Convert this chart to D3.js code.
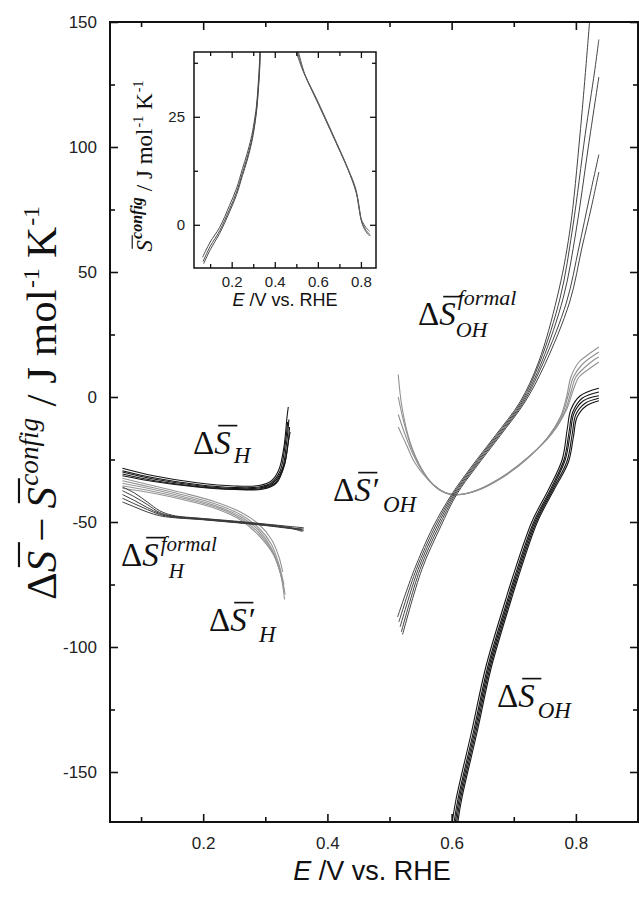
<!DOCTYPE html>
<html>
<head>
<meta charset="utf-8">
<script src="https://cdn.jsdelivr.net/npm/d3@7"></script>
<style>
  body { margin: 0; background: #fff; }
  svg { display: block; }
</style>
</head>
<body>
<svg id="chart"></svg>
<script>
// ---- data: [E (V vs RHE), entropy (J/mol/K)] ----
const xMajor = [0.2, 0.4, 0.6, 0.8];
const xMinor = [0.1, 0.3, 0.5, 0.7];
const yMajor = [-150, -100, -50, 0, 50, 100, 150];
const yMinor = [-125, -75, -25, 25, 75, 125];

const insetXMajor = [0.2, 0.4, 0.6, 0.8];
const insetXMinor = [0.1, 0.3, 0.5, 0.7];
const insetYMajor = [0, 25];
const insetYMinor = [12.5, 37.5];

// ΔS_H (black)
const dSH = [
  [[0.07,-28.5],[0.12,-31.5],[0.19,-34.3],[0.25,-35.6],[0.29,-35.4],[0.31,-33.5],[0.322,-29],[0.33,-20],[0.335,-8],[0.337,-4]],
  [[0.07,-29.5],[0.12,-32.3],[0.19,-35],[0.25,-36.2],[0.29,-36],[0.31,-34.3],[0.324,-29.5],[0.332,-19],[0.336,-10]],
  [[0.07,-30],[0.12,-32.8],[0.19,-35.4],[0.25,-36.6],[0.29,-36.4],[0.312,-34.5],[0.327,-29],[0.334,-19],[0.338,-9]],
  [[0.07,-30.8],[0.12,-33.4],[0.19,-35.8],[0.25,-36.9],[0.292,-36.7],[0.315,-34.6],[0.329,-28.5],[0.336,-20],[0.339,-12]],
  [[0.07,-31.5],[0.12,-33.8],[0.19,-36],[0.25,-37],[0.295,-36.9],[0.318,-34.4],[0.331,-27],[0.337,-18],[0.34,-14]]
];
// ΔS_H formal (dark grey)
const dSHformal = [
  [[0.07,-36],[0.09,-38.5],[0.11,-42],[0.13,-45.5],[0.15,-47.3],[0.2,-48.6],[0.25,-49.6],[0.3,-50.8],[0.34,-51.8],[0.362,-52.3]],
  [[0.07,-37.5],[0.09,-40],[0.11,-43],[0.13,-46.2],[0.15,-47.6],[0.2,-48.7],[0.25,-49.8],[0.3,-51],[0.34,-52.2],[0.362,-53.5]],
  [[0.07,-39],[0.09,-41.5],[0.11,-44.2],[0.13,-46.6],[0.15,-47.8],[0.2,-48.9],[0.25,-50],[0.3,-51.2],[0.34,-52.4],[0.362,-52.8]],
  [[0.07,-40.5],[0.09,-42.8],[0.11,-45],[0.13,-47],[0.15,-48],[0.2,-49],[0.25,-50.1],[0.3,-51.3],[0.34,-52.5],[0.36,-53.8]],
  [[0.07,-42],[0.09,-44],[0.11,-46],[0.13,-47.5],[0.15,-48.2],[0.2,-49.1],[0.25,-50.2],[0.3,-51.4],[0.34,-52.6],[0.36,-53]]
];
// ΔS'_H (light grey)
const dSHprime = [
  [[0.07,-32.5],[0.12,-35.5],[0.17,-38.5],[0.22,-42],[0.26,-46],[0.29,-51],[0.31,-57],[0.322,-64],[0.328,-70]],
  [[0.07,-33.5],[0.12,-36.3],[0.17,-39.3],[0.22,-42.8],[0.26,-47],[0.29,-52.5],[0.31,-59],[0.322,-67],[0.33,-75]],
  [[0.07,-34.5],[0.12,-37],[0.17,-40],[0.22,-43.5],[0.26,-47.8],[0.29,-53.5],[0.31,-60.5],[0.324,-70],[0.331,-81]],
  [[0.07,-35.5],[0.12,-37.8],[0.17,-40.6],[0.22,-44],[0.26,-48.5],[0.29,-54.5],[0.312,-62],[0.325,-71],[0.33,-77]],
  [[0.07,-36.5],[0.12,-38.5],[0.17,-41.2],[0.22,-44.6],[0.26,-49.2],[0.29,-55.5],[0.313,-63],[0.326,-72],[0.332,-79]]
];
// ΔS_OH formal (dark grey)
const dSOHformal = [
  [[0.513,-88],[0.54,-69],[0.57,-52],[0.6,-39],[0.63,-28.5],[0.67,-15.5],[0.71,-2],[0.74,14],[0.77,40],[0.79,66],[0.807,106],[0.822,150]],
  [[0.515,-90],[0.543,-69],[0.573,-52],[0.602,-39],[0.632,-28.5],[0.672,-15.5],[0.712,-2],[0.742,14],[0.775,40],[0.795,68],[0.815,105],[0.83,130],[0.837,143]],
  [[0.517,-92],[0.546,-69],[0.576,-52],[0.604,-39],[0.634,-28.5],[0.674,-15.5],[0.714,-2],[0.745,14],[0.78,40],[0.80,66],[0.82,100],[0.837,128]],
  [[0.519,-94],[0.549,-69],[0.579,-52],[0.606,-39],[0.636,-28.5],[0.676,-15.5],[0.716,-2],[0.748,14],[0.785,38],[0.805,60],[0.822,80],[0.837,97]],
  [[0.521,-95],[0.552,-69],[0.582,-52],[0.608,-39],[0.638,-28.5],[0.678,-15.5],[0.718,-2],[0.75,13],[0.79,38],[0.81,60],[0.825,76],[0.837,90]]
];
// ΔS'_OH (light grey)
const dSOHprime = [
  [[0.514,9],[0.52,-4],[0.533,-18],[0.55,-28],[0.57,-35],[0.59,-38.3],[0.61,-39],[0.64,-37.5],[0.68,-32.5],[0.72,-25],[0.755,-16],[0.775,-8],[0.785,0],[0.792,8],[0.805,14],[0.82,17],[0.837,20]],
  [[0.514,0],[0.523,-10],[0.535,-20],[0.552,-29],[0.572,-35.5],[0.592,-38.5],[0.612,-39],[0.642,-37.3],[0.682,-32],[0.722,-24.5],[0.757,-15.5],[0.778,-7],[0.788,1],[0.796,8],[0.81,13],[0.825,16],[0.837,18]],
  [[0.514,-7],[0.525,-15],[0.538,-23],[0.555,-30.5],[0.575,-36],[0.595,-38.8],[0.614,-39],[0.644,-37],[0.684,-31.6],[0.724,-24],[0.76,-15],[0.782,-6],[0.792,2],[0.8,8],[0.815,12],[0.83,15],[0.837,16]],
  [[0.514,-12],[0.527,-19],[0.54,-26],[0.558,-32],[0.578,-36.8],[0.598,-39],[0.616,-39],[0.646,-36.7],[0.686,-31.2],[0.726,-23.5],[0.762,-14.5],[0.785,-5],[0.796,3],[0.805,8],[0.82,11],[0.837,14]]
];
// ΔS_OH (black)
const dSOH = [
  [[0.601,-170],[0.607,-161],[0.632,-134],[0.655,-108],[0.687,-81],[0.697,-73],[0.729,-50],[0.756,-37],[0.778,-25],[0.786,-13],[0.792,-5],[0.807,0.5],[0.837,3.5]],
  [[0.604,-170],[0.610,-161],[0.635,-134],[0.658,-108],[0.690,-81],[0.700,-73],[0.732,-50],[0.759,-37],[0.781,-25],[0.789,-14],[0.795,-6],[0.810,-0.5],[0.837,2]],
  [[0.606,-170],[0.612,-161],[0.637,-134],[0.660,-108],[0.692,-81],[0.702,-73],[0.734,-50],[0.761,-37],[0.783,-25],[0.791,-14.5],[0.797,-6.5],[0.812,-1.5],[0.837,0.5]],
  [[0.608,-170],[0.614,-161],[0.639,-134],[0.662,-108],[0.694,-81],[0.704,-73],[0.736,-50],[0.763,-37],[0.786,-25.5],[0.794,-15],[0.800,-7],[0.815,-2.5],[0.837,-0.5]],
  [[0.610,-170],[0.616,-161],[0.641,-134],[0.664,-108],[0.696,-81],[0.706,-73],[0.738,-50],[0.765,-37],[0.788,-26],[0.796,-16],[0.802,-8],[0.817,-3.5],[0.837,-1.5]]
];
// inset: configurational entropy
const insetLeft = [
  [[0.065,-7.5],[0.1,-4],[0.144,-0.6],[0.19,4.5],[0.223,8.5],[0.25,13],[0.27,16.2],[0.29,20],[0.30,22.5],[0.315,27.5],[0.323,32.5],[0.328,36.5],[0.331,40]],
  [[0.067,-8.5],[0.1,-5],[0.144,-1.4],[0.19,3.6],[0.223,7.6],[0.25,12],[0.27,15.2],[0.29,19],[0.30,21.4],[0.315,26.6],[0.324,32],[0.329,36],[0.332,40]],
  [[0.07,-9],[0.1,-5.8],[0.144,-2],[0.19,3],[0.223,7],[0.25,11.4],[0.27,14.6],[0.29,18.4],[0.302,21.5],[0.317,27],[0.325,32],[0.33,36],[0.333,40]]
];
const insetRight = [
  [[0.50,40],[0.53,35.8],[0.59,29.6],[0.68,19.8],[0.74,13],[0.775,8.5],[0.79,4.5],[0.80,1.5],[0.815,0],[0.83,-1],[0.84,-1.5]],
  [[0.505,40],[0.535,35.2],[0.595,28.8],[0.685,19],[0.745,12.2],[0.778,7.5],[0.792,3.5],[0.803,0.8],[0.818,-0.8],[0.832,-1.8],[0.842,-2.2]],
  [[0.51,40],[0.54,34.8],[0.6,28.2],[0.69,18.4],[0.75,11.6],[0.782,6.8],[0.796,2.8],[0.806,0.2],[0.82,-1.3],[0.835,-2.3],[0.845,-2.5]]
];

const SANS = 'Liberation Sans, Arial, Helvetica, sans-serif';
const SERIF = 'Liberation Serif, Times New Roman, serif';

const svg = d3.select('#chart').attr('width', 639).attr('height', 903);
svg.append('rect').attr('width', 639).attr('height', 903).attr('fill', '#fff');

// lay out a run of text pieces left to right, with optional overbars and stacked sub/superscripts
function richText(parent, parts) {
  const g = parent.append('g');
  let cx = 0, last = 0;
  parts.forEach(p => {
    const size = p.size || 32;
    const x0 = p.stack ? last + (p.dx || 0) : cx + (p.gap || 0);
    const t = g.append('text')
      .attr('x', x0).attr('y', p.shift || 0)
      .attr('font-family', p.family || SERIF)
      .attr('font-size', size)
      .attr('font-style', p.italic ? 'italic' : 'normal')
      .attr('font-weight', p.bold ? 'bold' : 'normal')
      .attr('fill', '#111')
      .text(p.t);
    const w = t.node().getComputedTextLength();
    if (p.bar) {
      g.append('line')
        .attr('x1', x0 + size * 0.12).attr('x2', x0 + w + size * 0.2)
        .attr('y1', -size * 0.86).attr('y2', -size * 0.86)
        .attr('stroke', '#111').attr('stroke-width', Math.max(1.1, size * 0.05));
    }
    if (!p.stack) { last = x0; cx = x0 + w; }
    else cx = Math.max(cx, x0 + w);
  });
  return { g, width: cx };
}

const hyphenFmt = d => String(d);

function drawFrame(g, x, y, o) {
  const [x0, x1] = x.range(), [y0, y1] = y.range();
  const sty = sel => {
    sel.select('.domain').remove();
    sel.selectAll('line').attr('stroke', '#111').attr('stroke-width', o.tickW);
    sel.selectAll('text').attr('font-family', SANS).attr('font-size', o.font).attr('fill', '#222');
  };
  const f = d3.format('.1f');
  g.append('g').attr('transform', `translate(0,${y0})`)
    .call(d3.axisBottom(x).tickValues(o.xMajor).tickFormat(f).tickSizeInner(-o.major).tickSizeOuter(0).tickPadding(o.xPad)).call(sty);
  g.append('g').attr('transform', `translate(0,${y0})`)
    .call(d3.axisBottom(x).tickValues(o.xMinor).tickFormat('').tickSizeInner(-o.minor).tickSizeOuter(0)).call(sty);
  g.append('g').attr('transform', `translate(0,${y1})`)
    .call(d3.axisTop(x).tickValues(o.xMajor).tickFormat('').tickSizeInner(-o.major).tickSizeOuter(0)).call(sty);
  g.append('g').attr('transform', `translate(0,${y1})`)
    .call(d3.axisTop(x).tickValues(o.xMinor).tickFormat('').tickSizeInner(-o.minor).tickSizeOuter(0)).call(sty);
  g.append('g').attr('transform', `translate(${x0},0)`)
    .call(d3.axisLeft(y).tickValues(o.yMajor).tickFormat(hyphenFmt).tickSizeInner(-o.major).tickSizeOuter(0).tickPadding(o.yPad)).call(sty);
  g.append('g').attr('transform', `translate(${x0},0)`)
    .call(d3.axisLeft(y).tickValues(o.yMinor).tickFormat('').tickSizeInner(-o.minor).tickSizeOuter(0)).call(sty);
  g.append('g').attr('transform', `translate(${x1},0)`)
    .call(d3.axisRight(y).tickValues(o.yMajor).tickFormat('').tickSizeInner(-o.major).tickSizeOuter(0)).call(sty);
  g.append('g').attr('transform', `translate(${x1},0)`)
    .call(d3.axisRight(y).tickValues(o.yMinor).tickFormat('').tickSizeInner(-o.minor).tickSizeOuter(0)).call(sty);
  g.append('rect').attr('x', x0).attr('y', y1).attr('width', x1 - x0).attr('height', y0 - y1)
    .attr('fill', 'none').attr('stroke', '#111').attr('stroke-width', o.frameW);
}

function drawBundle(g, lines, x, y, color, width) {
  const line = d3.line().x(d => x(d[0])).y(d => y(d[1])).curve(d3.curveCatmullRom.alpha(0.5));
  g.selectAll(null).data(lines).enter().append('path')
    .attr('d', line).attr('fill', 'none')
    .attr('stroke', color).attr('stroke-width', width).attr('stroke-linejoin', 'round');
}

// ---- main panel ----
const x = d3.scaleLinear().domain([0.05, 0.9]).range([110, 638]);
const y = d3.scaleLinear().domain([-170, 150]).range([822, 22]);

svg.append('clipPath').attr('id', 'clipMain').append('rect')
  .attr('x', 110).attr('y', 22).attr('width', 528).attr('height', 800);
const plot = svg.append('g').attr('clip-path', 'url(#clipMain)');

drawBundle(plot, dSHprime, x, y, '#959595', 1.1);
drawBundle(plot, dSHformal, x, y, '#3a3a3a', 1.0);
drawBundle(plot, dSH, x, y, '#151515', 1.1);
drawBundle(plot, dSOHprime, x, y, '#909090', 1.1);
drawBundle(plot, dSOHformal, x, y, '#444', 1.0);
drawBundle(plot, dSOH, x, y, '#151515', 1.1);

drawFrame(svg.append('g'), x, y, {
  xMajor, xMinor, yMajor, yMinor, major: 8, minor: 5, tickW: 1.6, frameW: 2,
  font: 17, xPad: 15, yPad: 13
});

// axis titles
const xt = svg.append('text').attr('x', 372).attr('y', 880).attr('text-anchor', 'middle')
  .attr('font-family', SANS).attr('font-size', 27).attr('fill', '#111');
xt.append('tspan').attr('font-style', 'italic').text('E');
xt.append('tspan').text(' /V vs. RHE');

const yt = richText(svg, [
  { t: 'Δ', size: 38 }, { t: 'S', italic: true, bar: true, size: 38 },
  { t: '−', gap: 8, size: 38 }, { t: 'S', italic: true, bar: true, gap: 8, size: 38 },
  { t: 'config', italic: true, size: 24, shift: -16, gap: 1 },
  { t: '/ J mol', gap: 10, size: 38 }, { t: '-1', size: 21, shift: -15, gap: 1 },
  { t: 'K', gap: 9, size: 38 }, { t: '-1', size: 21, shift: -15, gap: 1 }
]);
const ytScale = 394 / yt.width;
yt.g.attr('transform', `translate(56,${403 + 197}) rotate(-90) scale(${ytScale})`);

// curve labels
function symbol(px, py, o) {
  const parts = [{ t: 'Δ', size: o.size }, { t: 'S', italic: true, bar: true, size: o.size }];
  if (o.prime) parts.push({ t: '′', size: o.size, gap: 2 });
  if (o.sup) parts.push({ t: o.sup, italic: true, size: o.subSize, shift: o.supShift, gap: 2 });
  parts.push({ t: o.sub, italic: true, size: o.subSize, shift: o.subShift, stack: !!o.sup, gap: 3, dx: o.subDx || 0 });
  const r = richText(svg, parts);
  r.g.attr('transform', `translate(${px},${py})`);
}
symbol(193, 454, { size: 33, sub: 'H', subSize: 23, subShift: 9 });
symbol(121, 566, { size: 33, sub: 'H', sup: 'formal', subSize: 21, subShift: 12, supShift: -15, subDx: 8 });
symbol(209, 631, { size: 33, sub: 'H', prime: true, subSize: 23, subShift: 11 });
symbol(418, 325, { size: 33, sub: 'OH', sup: 'formal', subSize: 22, subShift: 12, supShift: -20, subDx: -2 });
symbol(333, 501, { size: 33, sub: 'OH', prime: true, subSize: 23, subShift: 11 });
symbol(497, 707, { size: 33, sub: 'OH', subSize: 23, subShift: 11 });

// ---- inset ----
const ix = d3.scaleLinear().domain([0.025, 0.87]).range([194, 376]);
const iy = d3.scaleLinear().domain([-10, 40]).range([268, 52]);

svg.append('rect').attr('x', 194).attr('y', 52).attr('width', 182).attr('height', 216).attr('fill', '#fff');
svg.append('clipPath').attr('id', 'clipInset').append('rect')
  .attr('x', 194).attr('y', 52).attr('width', 182).attr('height', 216);
const inset = svg.append('g').attr('clip-path', 'url(#clipInset)');
drawBundle(inset, insetLeft, ix, iy, '#4a4a4a', 1.0);
drawBundle(inset, insetRight, ix, iy, '#5a5a5a', 1.0);

drawFrame(svg.append('g'), ix, iy, {
  xMajor: insetXMajor, xMinor: insetXMinor, yMajor: insetYMajor, yMinor: insetYMinor,
  major: 6, minor: 4, tickW: 1.3, frameW: 1.5, font: 15, xPad: 8, yPad: 9
});

const ixt = svg.append('text').attr('x', 285).attr('y', 306).attr('text-anchor', 'middle')
  .attr('font-family', SANS).attr('font-size', 18).attr('fill', '#111');
ixt.append('tspan').attr('font-style', 'italic').text('E');
ixt.append('tspan').text(' /V vs. RHE');

const iyt = richText(svg, [
  { t: 'S', italic: true, bar: true, size: 23 },
  { t: 'config', italic: true, bold: true, size: 16, shift: -10, gap: 1 },
  { t: '/ J mol', size: 23, gap: 6 }, { t: '-1', size: 14, shift: -9, gap: 1 },
  { t: 'K', size: 23, gap: 6 }, { t: '-1', size: 14, shift: -9, gap: 1 }
]);
iyt.g.attr('transform', `translate(152,${166 + iyt.width / 2}) rotate(-90)`);
</script>
</body>
</html>
